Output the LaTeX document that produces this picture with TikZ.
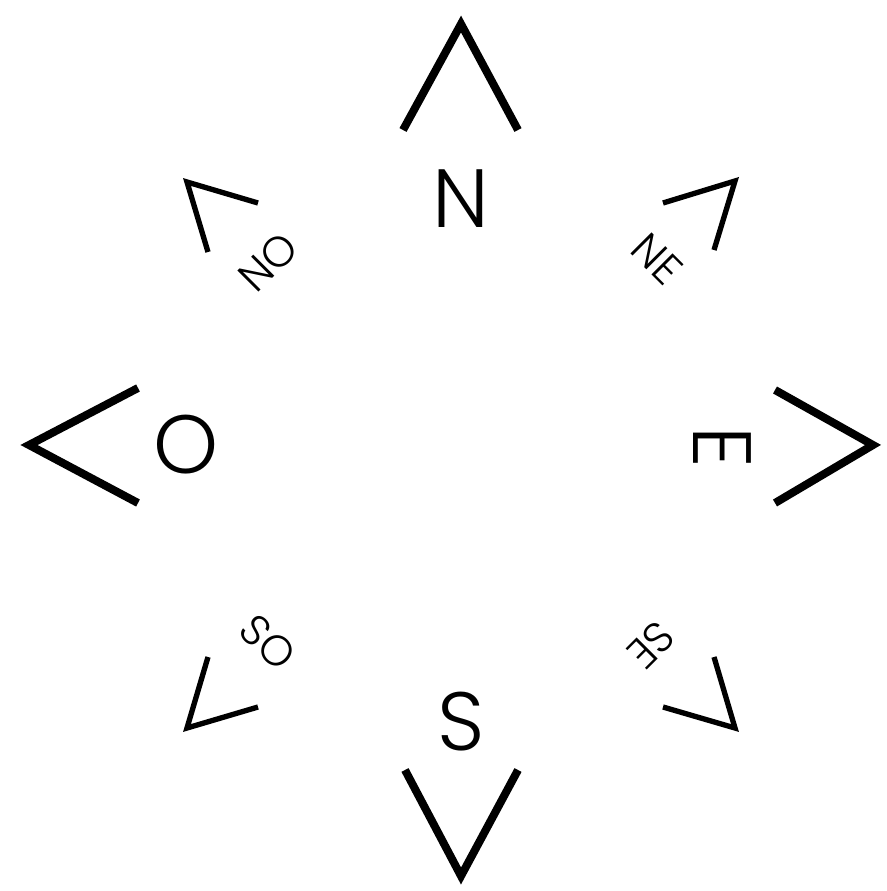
\documentclass[tikz,border=0pt]{standalone}
\usepackage{fontspec}
\setmainfont{Poppins}[UprightFont=* Light]
\usetikzlibrary{positioning}

\begin{document}
\begin{tikzpicture}[
  x=0.75pt, y=-0.75pt,
  bigarm/.style={line width=6pt, line join=miter, line cap=butt},
  smallarm/.style={line width=4pt, line join=miter, line cap=butt},
  bigletter/.style={inner sep=0pt, font=\fontsize{62}{62}\selectfont},
  smallletter/.style={inner sep=0pt, font=\fontsize{32}{32}\selectfont},
]
  \useasboundingbox (0,0) rectangle (887,891);

  % main points
  \draw[bigarm] (403,130) -- (461,24) -- (518,130);
  \draw[bigarm] (405,770) -- (461,876) -- (518,770);
  \draw[bigarm] (138,388) -- (29,445) -- (138,503);
  \draw[bigarm] (775,390) -- (873,445) -- (775,503);

  % in-between points
  \draw[smallarm] (208,252) -- (187,182) -- (258,203);
  \draw[smallarm] (663,203) -- (735,181) -- (714,250);
  \draw[smallarm] (208,657) -- (187,728) -- (258,707);
  \draw[smallarm] (663,707) -- (735,728) -- (714,657);

  \node[bigletter] (north) at (461,199) {N};
  \node[bigletter] (south) at (461,722) {S};
  \node[bigletter] (west) at (186,445) {O};
  \node[bigletter, rotate=-90] (east) at (722,447) {E};

  \node[smallletter, rotate=45] (northwest) at (268,262) {NO};
  \node[smallletter, rotate=-45] (northeast) at (657,259) {NE};
  \node[smallletter, rotate=-45] (southwest) at (268,642) {SO};
  \node[smallletter, rotate=-135] (southeast) at (651,645) {SE};
\end{tikzpicture}
\end{document}
